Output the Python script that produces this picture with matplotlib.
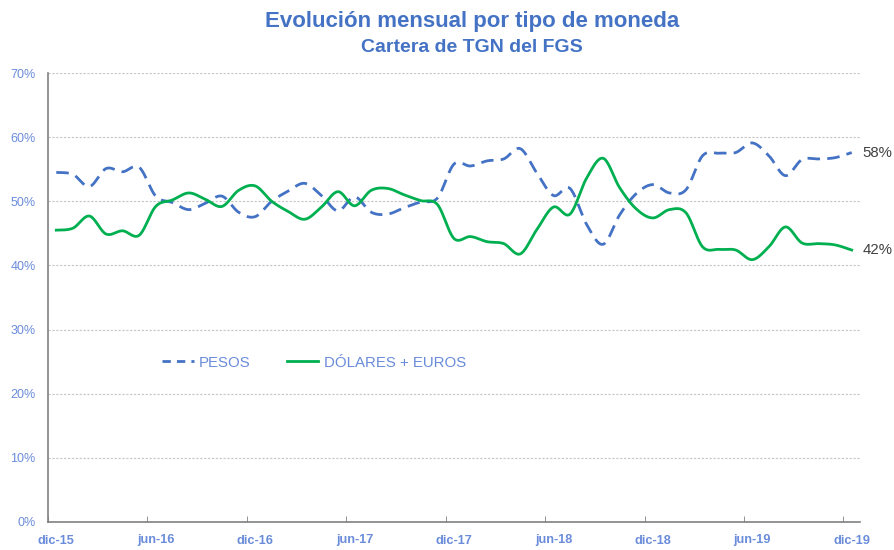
import numpy as np
import matplotlib
matplotlib.use("Agg")
import matplotlib.pyplot as plt
from matplotlib.lines import Line2D

plt.rcParams['font.family'] = ['Liberation Sans', 'DejaVu Sans']

# ---- data (monthly, dic-15 .. dic-19) ----
months = ["dic-15", "ene-16", "feb-16", "mar-16", "abr-16", "may-16", "jun-16",
          "jul-16", "ago-16", "sep-16", "oct-16", "nov-16", "dic-16",
          "ene-17", "feb-17", "mar-17", "abr-17", "may-17", "jun-17",
          "jul-17", "ago-17", "sep-17", "oct-17", "nov-17", "dic-17",
          "ene-18", "feb-18", "mar-18", "abr-18", "may-18", "jun-18",
          "jul-18", "ago-18", "sep-18", "oct-18", "nov-18", "dic-18",
          "ene-19", "feb-19", "mar-19", "abr-19", "may-19", "jun-19",
          "jul-19", "ago-19", "sep-19", "oct-19", "nov-19", "dic-19"]

dolares_euros = [45.5, 45.8, 47.7, 44.9, 45.4, 44.7, 49.2, 50.2, 51.3, 50.3,
                 49.2, 51.7, 52.4, 50.0, 48.4, 47.2, 49.1, 51.5, 49.3, 51.7,
                 52.0, 51.0, 50.1, 49.5, 44.2, 44.5, 43.7, 43.4, 41.8, 45.6,
                 49.1, 48.0, 53.6, 56.7, 52.1, 48.8, 47.4, 48.7, 48.2, 42.9,
                 42.5, 42.4, 40.9, 42.9, 46.0, 43.5, 43.4, 43.2, 42.4]

pesos = [54.5, 54.2, 52.3, 55.1, 54.6, 55.3, 50.8, 49.8, 48.7, 49.7,
         50.8, 48.3, 47.6, 50.0, 51.6, 52.8, 50.9, 48.5, 50.7, 48.3,
         48.0, 49.0, 49.9, 50.5, 55.8, 55.5, 56.3, 56.6, 58.2, 54.4,
         50.9, 52.0, 46.4, 43.3, 47.9, 51.2, 52.6, 51.3, 51.8, 57.1,
         57.5, 57.6, 59.1, 57.1, 54.0, 56.5, 56.6, 56.8, 57.6]

tick_labels = ["dic-15", "jun-16", "dic-16", "jun-17", "dic-17",
               "jun-18", "dic-18", "jun-19", "dic-19"]

series_names = ["PESOS", "DÓLARES + EUROS"]


def smooth(y, n=20):
    """Catmull-Rom spline through the points (like Excel's smoothed line)."""
    y = np.asarray(y, float)
    x = np.arange(len(y), dtype=float)
    px = np.concatenate([[x[0]], x, [x[-1]]])
    py = np.concatenate([[y[0]], y, [y[-1]]])
    xs, ys = [], []
    t = np.linspace(0, 1, n, endpoint=False)
    for i in range(1, len(px) - 2):
        p0, p1, p2, p3 = py[i - 1], py[i], py[i + 1], py[i + 2]
        q0, q1, q2, q3 = px[i - 1], px[i], px[i + 1], px[i + 2]
        def cr(a0, a1, a2, a3):
            return 0.5 * ((2 * a1) + (-a0 + a2) * t +
                          (2 * a0 - 5 * a1 + 4 * a2 - a3) * t ** 2 +
                          (-a0 + 3 * a1 - 3 * a2 + a3) * t ** 3)
        xs.append(cr(q0, q1, q2, q3))
        ys.append(cr(p0, p1, p2, p3))
    xs.append([x[-1]])
    ys.append([y[-1]])
    return np.concatenate(xs), np.concatenate(ys)


BLUE = "#4472C4"
GREEN = "#00B050"
LABEL_BLUE = "#6A8CDA"

fig = plt.figure(figsize=(8.95, 5.5), dpi=100)
ax = fig.add_axes([48 / 895, 1 - 522 / 550, (860 - 48) / 895, (522 - 73) / 550])

xp, yp = smooth(pesos)
xd, yd = smooth(dolares_euros)
ax.plot(xp, yp, color=BLUE, lw=2.0, dashes=(4.5, 2.6), solid_capstyle='butt')
ax.plot(xd, yd, color=GREEN, lw=2.0)

n = len(months)
ax.set_xlim(-0.5, n - 0.5)
ax.set_ylim(0, 70)

# x ticks: marks at boundaries, labels at month centres
label_pos = [months.index(m) for m in tick_labels]
ax.set_xticks(label_pos)
ax.set_xticklabels(tick_labels, fontsize=9.2, fontweight='bold', color=LABEL_BLUE)
ax.tick_params(axis='x', which='major', length=0, pad=9)
ax.set_xticks([p - 0.5 for p in label_pos], minor=True)
ax.tick_params(axis='x', which='minor', length=4, direction='in', color='#808080')

yt = np.arange(0, 71, 10)
ax.set_yticks(yt)
ax.set_yticklabels([f"{v}%" for v in yt], fontsize=9, color=LABEL_BLUE)
ax.tick_params(axis='y', length=0, pad=9)

for v in yt[1:]:
    ax.axhline(v, color='#C4C4C4', lw=0.8, ls=(0, (2, 1.5)), zorder=0)

for s in ['top', 'right']:
    ax.spines[s].set_visible(False)
for s in ['left', 'bottom']:
    ax.spines[s].set_color('#808080')
    ax.spines[s].set_linewidth(1.2)

# end labels
ax.annotate(f"{round(pesos[-1])}%", xy=(n - 1, pesos[-1]), xytext=(7.5, 0),
            textcoords='offset points', va='center', ha='left',
            fontsize=10.8, color='#404040', annotation_clip=False)
ax.annotate(f"{round(dolares_euros[-1])}%", xy=(n - 1, dolares_euros[-1]), xytext=(7.5, 0),
            textcoords='offset points', va='center', ha='left',
            fontsize=10.8, color='#404040', annotation_clip=False)

handles = [Line2D([0], [0], color=BLUE, lw=2.0, dashes=(3, 2.2)),
           Line2D([0], [0], color=GREEN, lw=2.0)]
leg = ax.legend(handles, series_names, loc='center left',
                bbox_to_anchor=(0.141, 0.355), ncol=2, frameon=False,
                fontsize=10.8, handlelength=2.1, handletextpad=0.35,
                columnspacing=2.4, borderaxespad=0, borderpad=0)
for t in leg.get_texts():
    t.set_color(LABEL_BLUE)

fig.text(0.527, 1 - 21 / 550, "Evolución mensual por tipo de moneda",
         ha='center', va='center', fontsize=16, fontweight='bold', color=BLUE)
fig.text(0.527, 1 - 47 / 550, "Cartera de TGN del FGS",
         ha='center', va='center', fontsize=14, fontweight='bold', color=BLUE)

fig.savefig("out.png", dpi=100)
